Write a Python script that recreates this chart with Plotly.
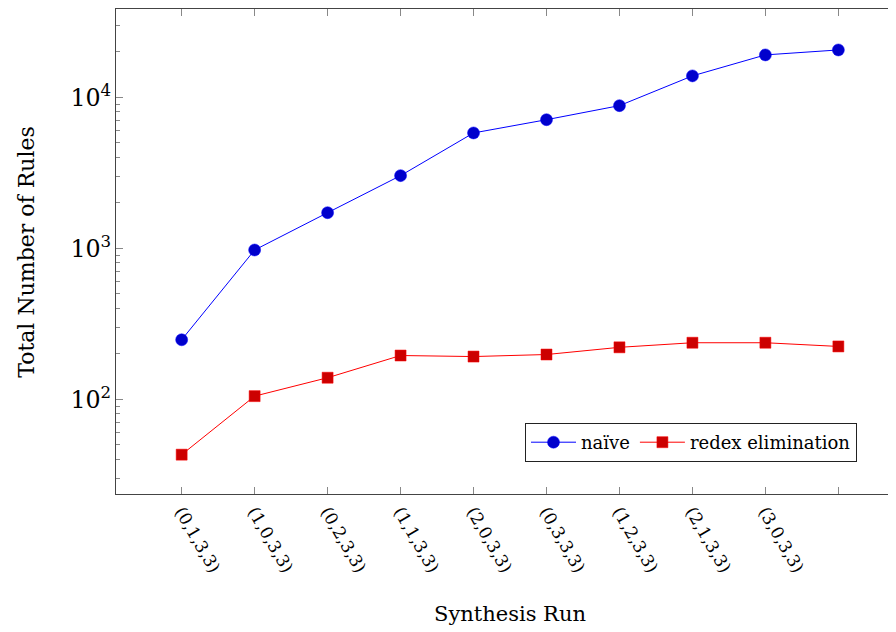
import plotly.graph_objects as go

runs = ["(0,1,3,3)", "(1,0,3,3)", "(0,2,3,3)", "(1,1,3,3)", "(2,0,3,3)",
        "(0,3,3,3)", "(1,2,3,3)", "(2,1,3,3)", "(3,0,3,3)", ""]
naive = [248, 975, 1722, 3030, 5810, 7110, 8810, 13870, 19100, 20600]
redex = [43, 105, 139, 195, 192, 198, 221, 237, 237, 224]

x = list(range(len(runs)))
font = "DejaVu Serif"

fig = go.Figure()
fig.add_trace(go.Scatter(
    x=x, y=naive, name="naïve", mode="lines+markers",
    line=dict(color="#0000ff", width=1),
    marker=dict(symbol="circle", size=12, color="#0000cc", line=dict(color="#0000ff", width=0.5)),
))
fig.add_trace(go.Scatter(
    x=x, y=redex, name="redex elimination", mode="lines+markers",
    line=dict(color="#ff0000", width=1),
    marker=dict(symbol="square", size=11, color="#cc0000", line=dict(color="#ff0000", width=0.5)),
))

# the page body has an 8px margin, so the figure is 8px smaller than the window
fig.update_layout(
    width=888, height=624,
    margin=dict(l=108, r=0, t=1, b=138),
    plot_bgcolor="white", paper_bgcolor="white",
    font=dict(family=font, size=17, color="black"),
    showlegend=True,
    legend=dict(
        orientation="h", x=0.95, xanchor="right", y=0.066, yanchor="bottom",
        bordercolor="#222", borderwidth=1, bgcolor="white",
        font=dict(size=18), itemwidth=45,
    ),
    annotations=[
        dict(text="Synthesis Run", x=0.505, y=-0.247, xref="paper", yref="paper",
             showarrow=False, font=dict(size=21), xanchor="center", yanchor="middle"),
        dict(text="Total Number of Rules", x=-0.115, y=0.5, xref="paper", yref="paper",
             showarrow=False, font=dict(size=22), textangle=-90, xanchor="center", yanchor="middle"),
    ],
)

fig.update_xaxes(
    range=[-0.9, 9.79], tickmode="array", tickvals=x, ticktext=runs,
    tickangle=60, ticks="inside", ticklen=7, tickcolor="#888",
    showline=True, linecolor="#444", linewidth=1, mirror="ticks",
    showgrid=False, zeroline=False, tickfont=dict(size=17), automargin=False,
)
fig.update_yaxes(
    type="log", range=[1.373, 4.585], dtick=1, exponentformat="power",
    ticks="inside", ticklen=7, tickcolor="#888",
    minor=dict(ticks="inside", ticklen=4, tickcolor="#888", dtick="D1", showgrid=False),
    showline=True, linecolor="#444", linewidth=1, mirror="ticks",
    showgrid=False, zeroline=False, tickfont=dict(size=19), automargin=False,
)

fig.write_html("out.html")
